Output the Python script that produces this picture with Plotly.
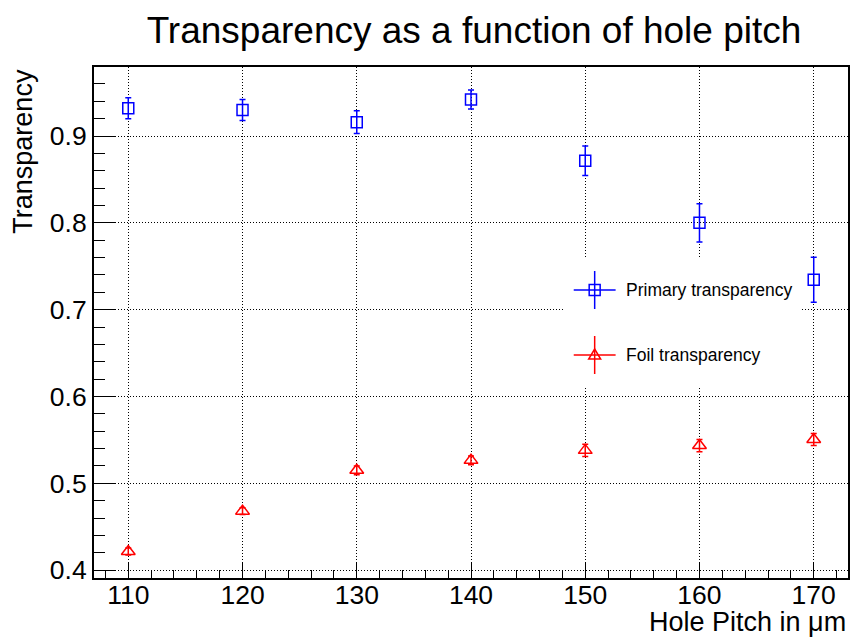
import plotly.graph_objects as go

# ---- data ----
pitch = [110, 120, 130, 140, 150, 160, 170]
primary = [0.932, 0.930, 0.916, 0.942, 0.8715, 0.800, 0.7345]
primary_err = [0.012, 0.012, 0.013, 0.011, 0.017, 0.022, 0.026]
foil = [0.4215, 0.4680, 0.5150, 0.5265, 0.5380, 0.5435, 0.5505]
foil_err = [0.004, 0.004, 0.005, 0.005, 0.007, 0.007, 0.007]
series_names = ["Primary transparency", "Foil transparency"]

W, H = 854, 639
L, R, T, B = 94, 850, 67, 578  # plot frame in pixels
FONT = "Liberation Sans, Arial, sans-serif"

fig = go.Figure()
fig.add_trace(go.Scatter(
    x=pitch, y=primary, mode="markers", name=series_names[0],
    marker=dict(symbol="square-open", size=11, color="blue", line=dict(width=1.5, color="blue")),
    error_y=dict(type="data", array=primary_err, color="blue", thickness=1.5, width=3),
    showlegend=False))
fig.add_trace(go.Scatter(
    x=pitch, y=foil, mode="markers", name=series_names[1],
    marker=dict(symbol="triangle-up-open", size=12, color="red", line=dict(width=1.5, color="red")),
    error_y=dict(type="data", array=foil_err, color="red", thickness=1.5, width=3),
    showlegend=False))

def px(x):
    return (x - L) / (R - L)

def py(y):
    return (B - y) / (B - T)

shapes = []
# legend background (covers grid lines)
shapes.append(dict(type="rect", xref="paper", yref="paper", x0=px(565), x1=px(803),
                   y0=py(386), y1=py(258), fillcolor="white", line=dict(width=0), layer="above"))

annotations = []
legend_rows = [(290, "blue", "square"), (355, "red", "triangle")]
for (cy, col, kind), name in zip(legend_rows, series_names):
    cx = 596
    shapes.append(dict(type="line", xref="paper", yref="paper", x0=px(575), x1=px(617),
                       y0=py(cy), y1=py(cy), line=dict(color=col, width=1.5), layer="above"))
    shapes.append(dict(type="line", xref="paper", yref="paper", x0=px(cx), x1=px(cx),
                       y0=py(cy + 19), y1=py(cy - 19), line=dict(color=col, width=1.5), layer="above"))
    if kind == "square":
        shapes.append(dict(type="rect", xref="paper", yref="paper", x0=px(cx - 5.5), x1=px(cx + 5.5),
                           y0=py(cy + 5.5), y1=py(cy - 5.5), line=dict(color=col, width=1.5),
                           fillcolor="rgba(0,0,0,0)", layer="above"))
    else:
        x0, x1, xm = px(cx - 6), px(cx + 6), px(cx)
        yb, yt = py(cy + 4), py(cy - 6)
        shapes.append(dict(type="path", xref="paper", yref="paper",
                           path=f"M {x0} {yb} L {x1} {yb} L {xm} {yt} Z",
                           line=dict(color=col, width=1.5), layer="above"))
    annotations.append(dict(text=name, xref="paper", yref="paper", x=px(625), y=py(cy),
                            xanchor="left", yanchor="middle", showarrow=False,
                            font=dict(family=FONT, size=17.5, color="black")))

# axis titles
annotations.append(dict(text="Hole Pitch in μm", xref="paper", yref="paper",
                        x=1.0, y=py(622), xanchor="right", yanchor="middle", showarrow=False,
                        font=dict(family=FONT, size=27, color="black")))
annotations.append(dict(text="Transparency", xref="paper", yref="paper",
                        x=px(22), y=1.0, xanchor="center", yanchor="top", textangle=-90,
                        showarrow=False, font=dict(family=FONT, size=27, color="black")))

axis_common = dict(showline=True, linecolor="black", linewidth=2, mirror=True,
                   ticks="inside", tickcolor="black", tickwidth=1,
                   showgrid=True, gridcolor="black", gridwidth=1, griddash="1px,2px",
                   zeroline=False, tickfont=dict(family=FONT, size=26.5, color="black"))

fig.update_xaxes(range=[107, 173], dtick=10, tick0=110, ticklen=16, ticklabelstandoff=-8,
                 minor=dict(dtick=2, ticks="inside", ticklen=8, tickcolor="black", showgrid=False),
                 **axis_common)
fig.update_yaxes(range=[0.391, 0.9795], dtick=0.1, tick0=0.4, ticklen=21, tickformat=".1f",
                 minor=dict(dtick=0.02, ticks="inside", ticklen=11, tickcolor="black", showgrid=False),
                 **axis_common)

fig.update_layout(
    width=W, height=H,
    margin=dict(l=L, r=W - R, t=T, b=H - B, pad=0),
    paper_bgcolor="white", plot_bgcolor="white",
    title=dict(text="Transparency as a function of hole pitch", x=474 / W, xanchor="center",
               y=1 - 30 / H, yanchor="middle", font=dict(family=FONT, size=37, color="black")),
    shapes=shapes, annotations=annotations, showlegend=False,
)

fig.write_html("out.html")
